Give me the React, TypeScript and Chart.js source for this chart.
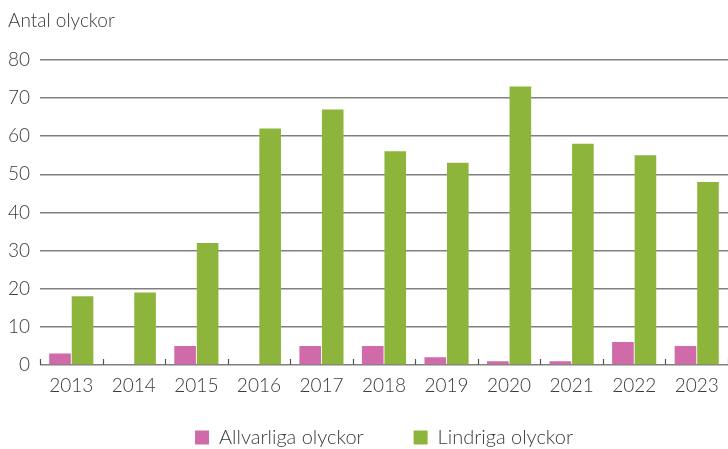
import React, { useEffect, useRef } from "react";
import { Chart, registerables } from "chart.js";

Chart.register(...registerables);

const years = ["2013", "2014", "2015", "2016", "2017", "2018", "2019", "2020", "2021", "2022", "2023"];
const allvarliga = [3, 0, 5, 0, 5, 5, 2, 1, 1, 6, 5];
const lindriga = [18, 19, 32, 62, 67, 56, 53, 73, 58, 55, 48];
const seriesNames = ["Allvarliga olyckor", "Lindriga olyckor"];
const axisTitle = "Antal olyckor";

const PINK = "#D06AA9";
const GREEN = "#8DB53C";
const GRID = "#808080";
const TEXT = "#3a3a3a";
const FONT = "Lato";

const catTicks = {
  id: "catTicks",
  afterDatasetsDraw(chart: any) {
    const x = chart.scales.x;
    const y = chart.scales.y;
    const ctx = chart.ctx;
    const base = y.getPixelForValue(0);
    ctx.save();
    ctx.strokeStyle = "#555";
    ctx.lineWidth = 1.2;
    for (let i = 0; i <= years.length; i++) {
      const px = Math.round(x.getPixelForValue(i - 0.5)) + 0.5;
      ctx.beginPath();
      ctx.moveTo(px, base - 6);
      ctx.lineTo(px, base);
      ctx.stroke();
    }
    ctx.restore();
  },
};

export default function App() {
  const ref = useRef<HTMLCanvasElement>(null);
  useEffect(() => {
    if (!ref.current) return;
    const chart = new Chart(ref.current, {
      type: "bar",
      data: {
        labels: years,
        datasets: [
          { label: seriesNames[0], data: allvarliga, backgroundColor: PINK },
          { label: seriesNames[1], data: lindriga, backgroundColor: GREEN },
        ],
      },
      plugins: [catTicks],
      options: {
        animation: false,
        responsive: true,
        maintainAspectRatio: false,
        layout: { padding: { left: 8, right: 0, top: 0, bottom: -8.5 } },
        datasets: { bar: { barPercentage: 0.96, categoryPercentage: 0.72 } },
        scales: {
          x: {
            offset: true,
            grid: { display: false },
            border: { display: false },
            ticks: { color: TEXT, font: { family: FONT, size: 19, weight: "300" }, padding: 1, maxRotation: 0 },
            afterFit(scale: any) {
              scale.height = 12.5;
              scale._computeLabelArea = () => undefined;
            },
          },
          y: {
            min: 0,
            max: 80,
            ticks: { stepSize: 10, color: TEXT, font: { family: FONT, size: 19, weight: "300" }, padding: 10 },
            grid: { color: GRID, lineWidth: 1.5, drawTicks: false },
            border: { display: false },
            afterFit(scale: any) {
              scale.width = 32;
            },
          },
        },
        plugins: {
          tooltip: { enabled: false },
          title: {
            display: true,
            text: axisTitle,
            align: "start",
            color: TEXT,
            font: { family: FONT, size: 19, weight: "300" },
            padding: { top: 9, bottom: 28 },
          },
          legend: {
            position: "bottom",
            fullSize: false,
            labels: {
              color: TEXT,
              font: { family: FONT, size: 20, weight: "300" },
              boxWidth: 14,
              boxHeight: 14,
              padding: 50,
            },
          },
        },
      },
    });
    return () => chart.destroy();
  }, []);
  return (
    <div style={{ position: "fixed", left: 0, top: 0, width: 728, height: 449 }}>
      <canvas ref={ref} />
    </div>
  );
}
